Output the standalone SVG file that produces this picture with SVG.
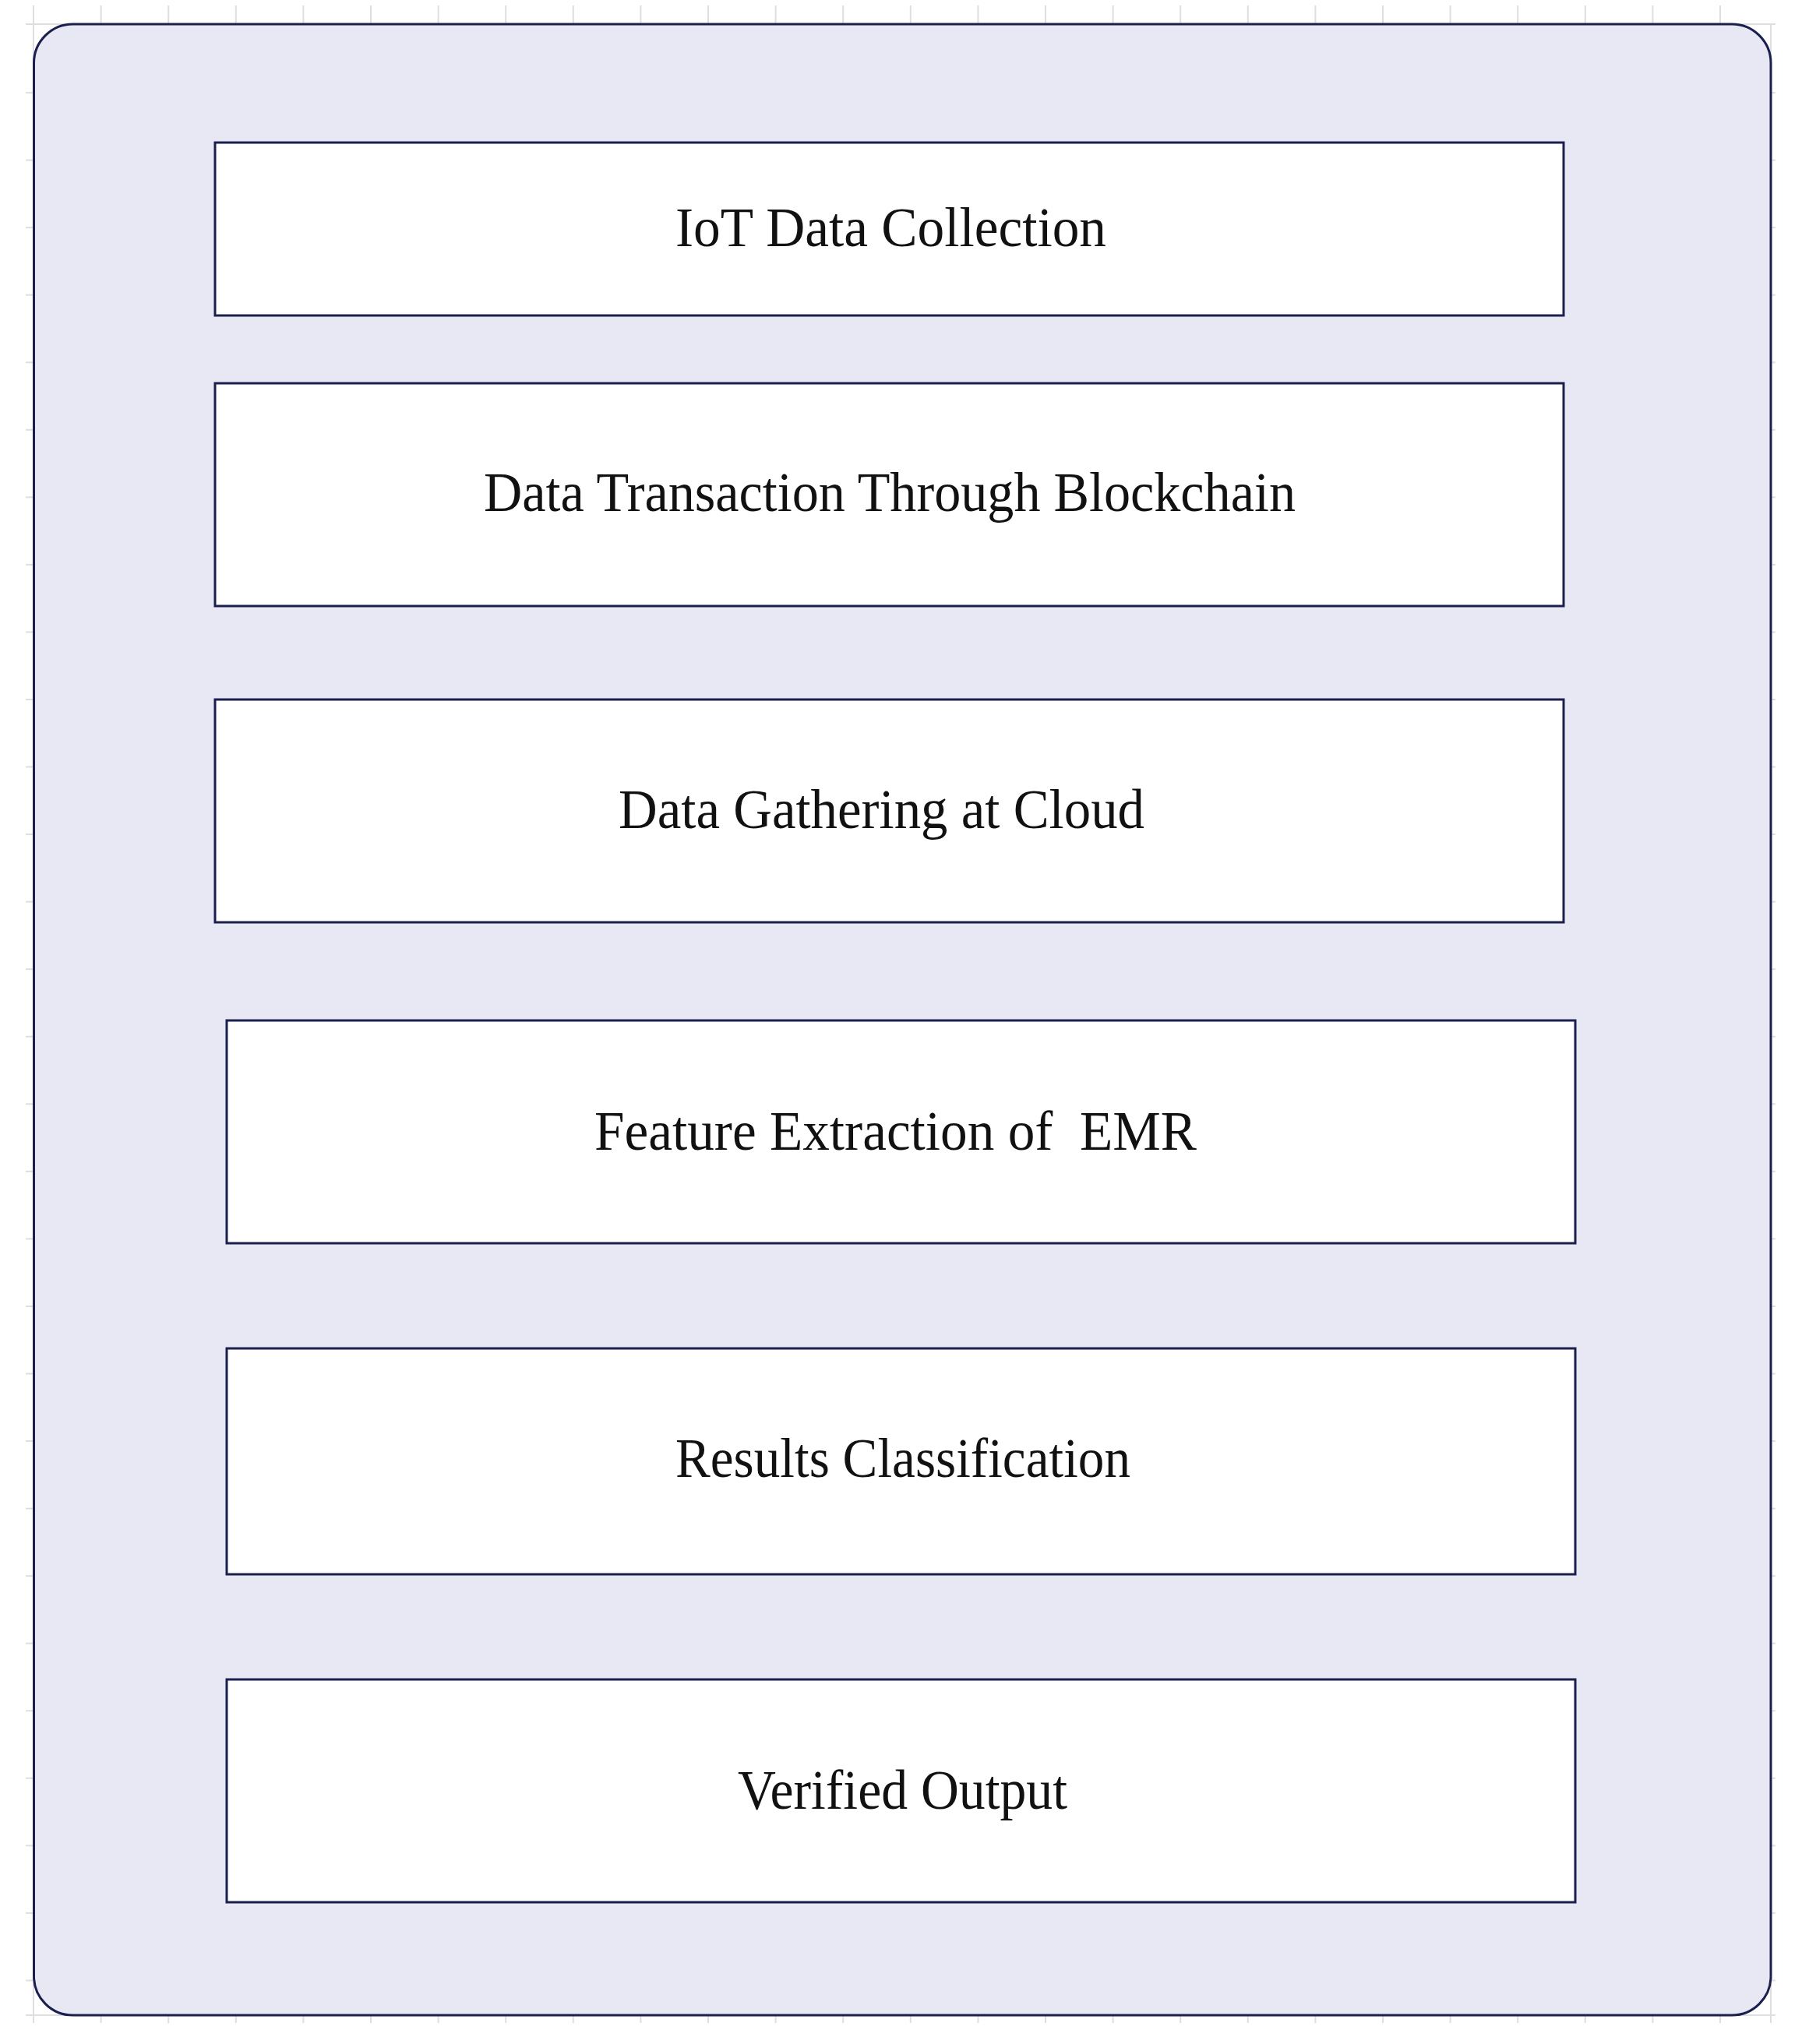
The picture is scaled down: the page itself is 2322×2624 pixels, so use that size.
<svg xmlns="http://www.w3.org/2000/svg" width="2322" height="2624" viewBox="0 0 2322 2624">
  <style>
    .grid { stroke: #dedede; stroke-width: 2; fill: none; }
    .frame { fill: #e8e8f4; stroke: #1a1f4d; stroke-width: 3; }
    .box { fill: #ffffff; stroke: #1a1f4d; stroke-width: 3; }
    .label { font-family: "Liberation Serif", "Times New Roman", serif; font-size: 72px; fill: #111111; }
  </style>
  <defs>
    <pattern id="tickX" patternUnits="userSpaceOnUse" x="42" y="0" width="86.6" height="2624">
      <rect x="0" y="0" width="2" height="2624" fill="#dedede"/>
    </pattern>
    <pattern id="tickY" patternUnits="userSpaceOnUse" x="0" y="31.5" width="2322" height="86.55">
      <rect x="0" y="0" width="2322" height="2" fill="#dedede"/>
    </pattern>
  </defs>
  <rect width="2322" height="2624" fill="#ffffff"/>
  <g id="ruler">
    <rect x="42" y="7" width="2170" height="24" fill="url(#tickX)"/>
    <rect x="42" y="2587" width="2170" height="10" fill="url(#tickX)"/>
    <rect x="33" y="110" width="10" height="2440" fill="url(#tickY)"/>
    <rect x="2273" y="110" width="6" height="2440" fill="url(#tickY)"/>
    <path class="grid" d="M33 31 H2279 M43 7 V2597 M2273 31 V2597 M33 2587 H2279"/>
  </g>
  <g id="container">
    <rect class="frame" x="43.5" y="31" width="2229.5" height="2556" rx="50" ry="50"/>
  </g>
  <g id="connectors"></g>
  <g id="node-iot">
    <rect class="box" x="276" y="183" width="1731" height="222"/>
    <text class="label" x="867" y="316" textLength="553" lengthAdjust="spacingAndGlyphs">IoT Data Collection</text>
  </g>
  <g id="node-blockchain">
    <rect class="box" x="276" y="492" width="1731" height="286"/>
    <text class="label" x="621" y="656" textLength="1042" lengthAdjust="spacingAndGlyphs">Data Transaction Through Blockchain</text>
  </g>
  <g id="node-cloud">
    <rect class="box" x="276" y="898" width="1731" height="286"/>
    <text class="label" x="794" y="1063" textLength="675" lengthAdjust="spacingAndGlyphs">Data Gathering at Cloud</text>
  </g>
  <g id="node-feature">
    <rect class="box" x="291" y="1310" width="1731" height="286"/>
    <text class="label" x="763" y="1476" textLength="773" lengthAdjust="spacingAndGlyphs" xml:space="preserve">Feature Extraction of  EMR</text>
  </g>
  <g id="node-results">
    <rect class="box" x="291" y="1731" width="1731" height="290"/>
    <text class="label" x="867" y="1896" textLength="584" lengthAdjust="spacingAndGlyphs">Results Classification</text>
  </g>
  <g id="node-output">
    <rect class="box" x="291" y="2156" width="1731" height="286"/>
    <text class="label" x="947" y="2322" textLength="423" lengthAdjust="spacingAndGlyphs">Verified Output</text>
  </g>
</svg>
